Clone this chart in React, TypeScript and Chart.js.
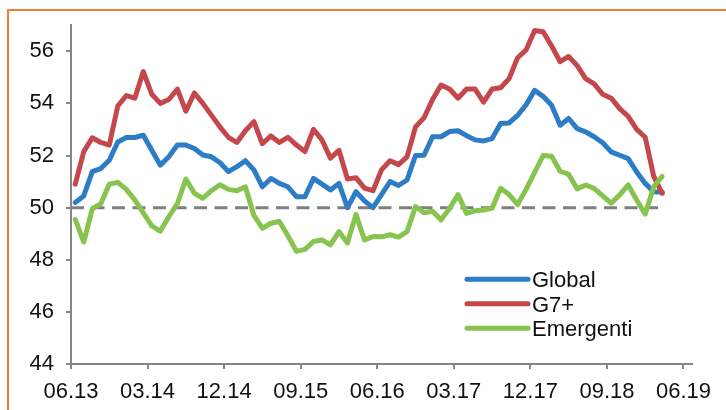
import React, { useEffect, useRef } from "react";
import { Chart, registerables } from "chart.js";

Chart.register(...registerables);

// Tick labels every 9 months starting at 06.13 (month index 0)
const xTickLabels = ["06.13", "03.14", "12.14", "09.15", "06.16", "03.17", "12.17", "09.18", "06.19"];
const seriesNames = ["Global", "G7+", "Emergenti"];

// Monthly values, 06.13 – 03.19
const globalValues = [
  50.2, 50.45, 51.38, 51.5, 51.82, 52.52, 52.69, 52.69, 52.78, 52.2,
  51.63, 51.95, 52.4, 52.4, 52.27, 52.02, 51.95, 51.73, 51.38, 51.57,
  51.8, 51.45, 50.8, 51.12, 50.93, 50.8, 50.42, 50.42, 51.12, 50.9,
  50.68, 50.93, 50.0, 50.61, 50.26, 50.0, 50.5, 51.0, 50.85, 51.06,
  52.0, 52.01, 52.72, 52.72, 52.92, 52.95, 52.76, 52.6, 52.56, 52.65,
  53.23, 53.25, 53.54, 53.95, 54.5, 54.27, 53.93, 53.16, 53.42, 53.03,
  52.91, 52.72, 52.49, 52.14, 52.01, 51.88, 51.37, 50.93, 50.61, 50.59,
];
const g7Values = [
  50.9, 52.15, 52.68, 52.5, 52.4, 53.9, 54.3, 54.2, 55.22, 54.35,
  54.0, 54.15, 54.55, 53.7, 54.4, 54.0, 53.55, 53.1, 52.7, 52.5,
  52.95, 53.3, 52.45, 52.75, 52.5, 52.7, 52.4, 52.15, 53.0, 52.6,
  51.9, 52.2, 51.1, 51.15, 50.75, 50.65, 51.45, 51.8, 51.65, 51.95,
  53.1, 53.45, 54.15, 54.7, 54.55, 54.2, 54.55, 54.55, 54.05, 54.55,
  54.6, 54.95, 55.75, 56.05, 56.8, 56.75, 56.2, 55.6, 55.8, 55.45,
  54.95, 54.75, 54.35, 54.2, 53.8, 53.5, 53.0, 52.7, 51.2, 50.55,
];
const emergentiValues = [
  49.55, 48.68, 49.95, 50.15, 50.9, 50.97, 50.7, 50.3, 49.8, 49.3,
  49.1, 49.65, 50.15, 51.1, 50.55, 50.36, 50.65, 50.88, 50.7, 50.65,
  50.8, 49.7, 49.21, 49.4, 49.47, 48.92, 48.32, 48.4, 48.7, 48.76,
  48.57, 49.08, 48.64, 49.74, 48.76, 48.89, 48.88, 48.96, 48.87, 49.08,
  50.04, 49.8, 49.86, 49.53, 49.97, 50.5, 49.78, 49.88, 49.91, 49.98,
  50.74, 50.5, 50.12, 50.7, 51.35, 52.0, 51.97, 51.4, 51.28, 50.72,
  50.87, 50.74, 50.45, 50.17, 50.49, 50.87, 50.29, 49.75, 50.8, 51.2,
];
const referenceLevel = 50;
const referenceSpan = [0, 69.3];

const BLUE = "#2c7cc6";
const RED = "#c4474b";
const GREEN = "#86c34f";
const AXIS = "#868686";
const FONT = "'Liberation Sans', Arial, sans-serif";

const legendPlugin = {
  id: "insideLegend",
  afterDatasetsDraw(chart: any) {
    const ctx = chart.ctx;
    const area = chart.chartArea;
    const x0 = area.left + 396;
    const x1 = area.left + 457;
    const rows = [area.top + 254, area.top + 278.5, area.top + 303];
    ctx.save();
    chart.data.datasets.forEach((ds: any, i: number) => {
      if (i > 2) return;
      const y = rows[i];
      ctx.strokeStyle = ds.borderColor;
      ctx.lineWidth = 5;
      ctx.lineCap = "round";
      ctx.beginPath();
      ctx.moveTo(x0, y);
      ctx.lineTo(x1, y);
      ctx.stroke();
      ctx.fillStyle = "#111";
      ctx.font = `22px ${FONT}`;
      ctx.textAlign = "left";
      ctx.textBaseline = "alphabetic";
      ctx.fillText(ds.label, x1 + 4, y + 8);
    });
    ctx.restore();
  },
};

export default function App() {
  const ref = useRef<HTMLCanvasElement>(null);

  useEffect(() => {
    const canvas = ref.current;
    if (!canvas) return;
    const pts = (vals: number[]) => vals.map((v, i) => ({ x: i + 0.5, y: v }));
    const lineStyle = {
      borderWidth: 5,
      pointRadius: 0,
      tension: 0,
      borderJoinStyle: "round" as const,
      borderCapStyle: "round" as const,
      fill: false,
    };
    const chart = new Chart(canvas, {
      type: "line",
      data: {
        datasets: [
          { label: seriesNames[0], data: pts(globalValues), borderColor: BLUE, backgroundColor: BLUE, order: 3, ...lineStyle },
          { label: seriesNames[1], data: pts(g7Values), borderColor: RED, backgroundColor: RED, order: 2, ...lineStyle },
          { label: seriesNames[2], data: pts(emergentiValues), borderColor: GREEN, backgroundColor: GREEN, order: 1, ...lineStyle },
          {
            label: "ref",
            data: referenceSpan.map((x) => ({ x, y: referenceLevel })),
            borderColor: "#7f7f7f",
            borderWidth: 3,
            borderDash: [13, 7.5],
            pointRadius: 0,
            order: 5,
            fill: false,
          },
        ],
      },
      options: {
        animation: false,
        responsive: false,
        maintainAspectRatio: false,
        layout: { padding: { top: 24, right: 34, bottom: 0, left: 0 } },
        plugins: {
          legend: { display: false },
          tooltip: { enabled: false },
          title: { display: false },
        },
        scales: {
          x: {
            type: "linear",
            min: 0,
            max: 73,
            ticks: {
              stepSize: 9,
              includeBounds: false,
              autoSkip: false,
              maxRotation: 0,
              minRotation: 0,
              padding: 10,
              color: "#111",
              font: { family: FONT, size: 22 },
              callback: (v: any) => xTickLabels[Math.round(Number(v) / 9)] ?? "",
            },
            grid: { display: true, drawOnChartArea: false, drawTicks: true, tickLength: 5, color: AXIS, lineWidth: 2 },
            border: { display: true, color: AXIS, width: 2 },
            afterFit: (s: any) => {
              s.height = 46;
            },
          },
          y: {
            min: 44,
            max: 57,
            ticks: {
              stepSize: 2,
              includeBounds: false,
              padding: 12,
              color: "#111",
              font: { family: FONT, size: 22 },
            },
            grid: { display: true, drawOnChartArea: false, drawTicks: true, tickLength: 5, color: AXIS, lineWidth: 2 },
            border: { display: true, color: AXIS, width: 2 },
            afterFit: (s: any) => {
              s.width = 71;
            },
          },
        },
      },
      plugins: [legendPlugin],
    } as any);
    return () => chart.destroy();
  }, []);

  return (
    <div style={{ position: "fixed", left: 0, top: 0, width: 726, height: 410, overflow: "hidden", background: "#fff" }}>
      <div
        style={{
          position: "absolute",
          left: 7,
          top: 9,
          width: 800,
          height: 600,
          borderTop: "2px solid #f07c3c",
          borderLeft: "2px solid #f07c3c",
        }}
      />
      <canvas ref={ref} width={726} height={410} style={{ position: "absolute", left: 0, top: 0, width: 726, height: 410 }} />
    </div>
  );
}
